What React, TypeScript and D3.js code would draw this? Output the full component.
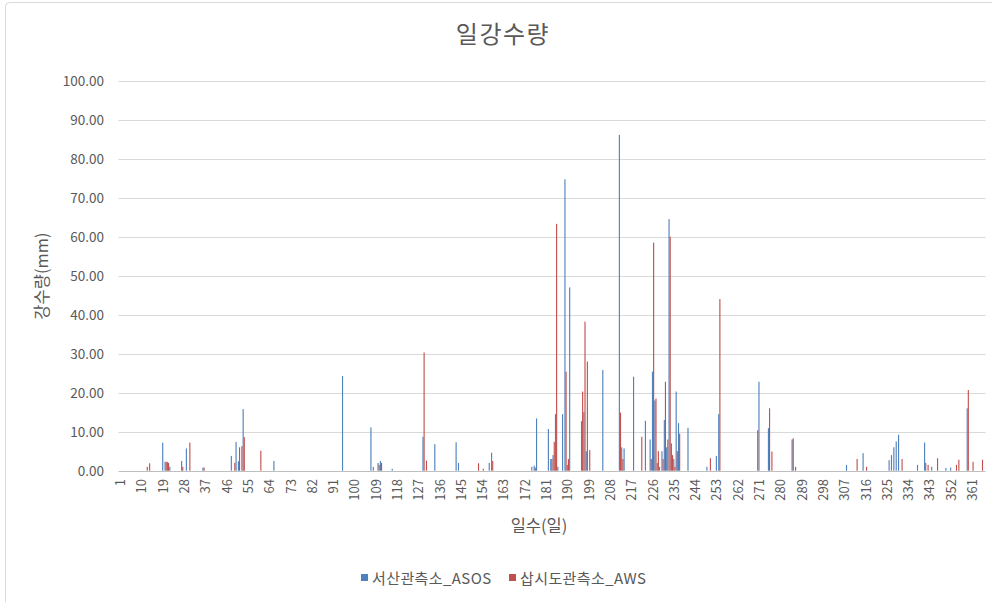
import React from "react";
import * as d3 from "d3";

const title = "일강수량";
const yAxisTitle = "강수량(mm)";
const xAxisTitle = "일수(일)";
const seriesNames = ["서산관측소_ASOS", "삽시도관측소_AWS"];
const seriesColors = ["#4F81BD", "#C0504D"];

const dayCount = 366;
const yTicks = [0, 10, 20, 30, 40, 50, 60, 70, 80, 90, 100];
const xTickDays = d3.range(1, dayCount + 1, 9);

// 서산관측소_ASOS (day, mm)
const asosDays = [19, 20, 21, 22, 27, 29, 36, 48, 50, 51, 53, 66, 95, 107, 108, 110, 111, 116, 129, 134, 143, 144, 157, 158, 175, 176, 177, 182, 183, 184, 185, 186, 188, 189, 190, 191, 196, 197, 198, 205, 212, 213, 214, 218, 223, 225, 226, 227, 228, 229, 230, 231, 232, 233, 234, 235, 236, 237, 241, 249, 253, 254, 271, 275, 285, 308, 315, 326, 327, 328, 329, 330, 338, 341, 344, 350, 352, 359];
const asosValues = [7.2, 2.3, 2.2, 1.0, 2.5, 5.7, 0.8, 3.8, 7.4, 2.4, 15.8, 2.5, 24.3, 11.1, 1.0, 2.0, 2.5, 0.5, 8.7, 6.8, 7.3, 2.0, 2.0, 4.6, 1.0, 1.3, 13.4, 10.7, 3.0, 4.0, 14.5, 1.0, 14.5, 74.7, 1.5, 47.0, 12.7, 15.0, 5.0, 25.8, 86.1, 6.0, 5.7, 24.1, 12.8, 8.0, 25.4, 18.0, 2.0, 1.0, 5.0, 13.0, 6.0, 64.5, 7.0, 3.0, 20.3, 12.2, 11.0, 1.0, 3.8, 14.5, 22.8, 10.9, 8.0, 1.5, 4.5, 2.7, 4.0, 6.0, 7.5, 9.2, 1.5, 7.2, 1.0, 0.7, 0.8, 16.0];

// 삽시도관측소_AWS (day, mm)
const awsDays = [12, 13, 20, 21, 27, 30, 36, 49, 51, 52, 53, 60, 110, 111, 129, 130, 152, 154, 158, 176, 183, 184, 185, 189, 190, 196, 197, 198, 199, 212, 213, 221, 225, 226, 227, 228, 230, 231, 232, 233, 234, 235, 236, 237, 250, 254, 270, 275, 276, 285, 286, 312, 316, 331, 341, 342, 346, 354, 355, 359, 361, 365];
const awsValues = [1.0, 1.9, 2.3, 2.0, 1.0, 7.2, 0.8, 2.0, 6.0, 6.3, 8.6, 5.1, 1.5, 2.0, 30.3, 2.6, 1.9, 0.5, 2.5, 0.8, 3.0, 7.4, 63.3, 25.4, 3.0, 20.3, 38.2, 28.0, 5.3, 14.9, 3.0, 8.7, 3.0, 58.5, 18.5, 5.0, 3.0, 22.8, 8.0, 60.0, 4.0, 1.0, 5.0, 9.5, 3.2, 44.0, 10.4, 16.0, 4.9, 8.3, 1.0, 3.0, 1.0, 3.0, 2.0, 1.5, 3.2, 1.5, 2.8, 20.7, 2.3, 2.8];

const days = d3.range(1, dayCount + 1);
function fullSeries(ds: number[], vs: number[]) {
  const m = new Map<number, number>();
  ds.forEach((d, i) => m.set(d, vs[i]));
  return days.map((d) => m.get(d) ?? 0);
}
const series = [fullSeries(asosDays, asosValues), fullSeries(awsDays, awsValues)];

const W = 992;
const H = 602;
const plotLeft = 119.5;
const plotRight = 985.5;
const plotTop = 80.7;
const plotBottom = 470.7;

const textColor = "#595959";
const font = "'Noto Sans CJK KR', 'Noto Sans', sans-serif";

export default function App() {
  const x = d3.scaleBand<number>().domain(days).range([plotLeft, plotRight]).paddingInner(0).paddingOuter(0);
  const y = d3.scaleLinear().domain([0, 100]).range([plotBottom, plotTop]);
  const inner = d3.scaleBand<number>().domain([0, 1]).range([0, x.bandwidth()]).paddingInner(0).paddingOuter(0.05);

  return (
    <svg width={W} height={H} style={{ position: "absolute", left: 0, top: 0, background: "#fff" }} fontFamily={font}>
      <rect x={5.5} y={2.5} width={W + 20} height={H + 20} rx={4} fill="#fff" stroke="#d9d9d9" />
      <text x={503} y={43} textAnchor="middle" fontSize={24} letterSpacing={1.5} fill={textColor}>{title}</text>
      {yTicks.map((t) => (
        <g key={t}>
          <line x1={plotLeft - 1} x2={plotRight} y1={Math.round(y(t)) + 0.5} y2={Math.round(y(t)) + 0.5} stroke={t === 0 ? "#bfbfbf" : "#d9d9d9"} />
          <text x={104} y={y(t) + 5} textAnchor="end" fontSize={13.5} fill={textColor}>{t.toFixed(2)}</text>
        </g>
      ))}
      {series.map((vals, si) => (
        <g key={si} fill={seriesColors[si]}>
          {vals.map((v, i) =>
            v > 0 ? (
              <rect key={i} x={(x(days[i]) as number) + (inner(si) as number)} y={y(v)} width={Math.max(inner.bandwidth(), 1)} height={plotBottom - y(v)} />
            ) : null
          )}
        </g>
      ))}
      {xTickDays.map((d) => (
        <text key={d} transform={`translate(${(x(d) as number) + x.bandwidth() / 2 + 4.5},479) rotate(-90)`} textAnchor="end" fontSize={13} fill={textColor}>{d}</text>
      ))}
      <text x={539} y={532} textAnchor="middle" fontSize={16.5} fill={textColor}>{xAxisTitle}</text>
      <text transform={`translate(48,276) rotate(-90)`} textAnchor="middle" fontSize={16.5} fill={textColor}>{yAxisTitle}</text>
      {seriesNames.map((n, i) => {
        const lx = i === 0 ? 361 : 509;
        return (
          <g key={n}>
            <rect x={lx} y={574} width={7} height={7} fill={seriesColors[i]} />
            <text x={lx + 11} y={583.5} fontSize={15} letterSpacing={0.4} fill={textColor}>{n}</text>
          </g>
        );
      })}
    </svg>
  );
}
